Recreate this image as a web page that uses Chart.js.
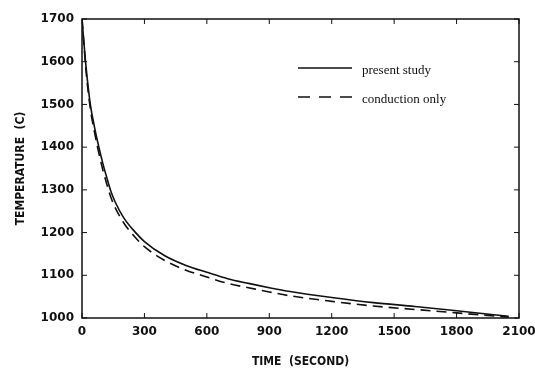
<!DOCTYPE html>
<html>
<head>
<meta charset="utf-8">
<script src="https://cdn.jsdelivr.net/npm/chart.js@4.4.0/dist/chart.umd.min.js"></script>
<style>
  html, body { margin: 0; padding: 0; background: #fff; }
  #wrap { width: 535px; height: 373px; }
</style>
</head>
<body>
<div id="wrap"><canvas id="tempChart" width="535" height="373"></canvas></div>
<script>
// time in seconds, temperature in C
const times = [0, 10, 20, 40, 60, 80, 100, 120, 140, 160, 200, 250, 300, 400, 500, 600, 700, 800, 900, 1000, 1200, 1400, 1600, 1800, 2050];
const presentStudy = [1700, 1640, 1585, 1500, 1447, 1402, 1362, 1327, 1295, 1271, 1235, 1204, 1179, 1145, 1123, 1107, 1092, 1081, 1071, 1062, 1048, 1036, 1027, 1017, 1004];
const conductionOnly = [1700, 1636, 1575, 1490, 1435, 1388, 1347, 1312, 1281, 1258, 1223, 1192, 1167, 1134, 1112, 1096, 1081, 1071, 1061, 1052, 1039, 1028, 1020, 1012, 1002];
const xTicks = [0, 300, 600, 900, 1200, 1500, 1800, 2100];
const yTicks = [1000, 1100, 1200, 1300, 1400, 1500, 1600, 1700];

const tickFont = { family: "'DejaVu Sans', sans-serif", size: 12, weight: "bold" };
const titleFont = { family: "'DejaVu Sans Condensed', 'DejaVu Sans', sans-serif", size: 12, weight: "bold" };

function toPoints(xs, ys) {
  return xs.map((x, i) => ({ x, y: ys[i] }));
}

// box around the plot with short inward tick marks on all four sides
const frameTicks = {
  id: "frameTicks",
  afterDraw(chart) {
    const { ctx, chartArea: a, scales } = chart;
    ctx.save();
    ctx.strokeStyle = "#111";
    ctx.lineWidth = 1.5;
    ctx.strokeRect(a.left, a.top, a.right - a.left, a.bottom - a.top);
    ctx.lineWidth = 1;
    ctx.beginPath();
    xTicks.forEach(v => {
      const px = scales.x.getPixelForValue(v);
      ctx.moveTo(px, a.bottom); ctx.lineTo(px, a.bottom - 5);
      ctx.moveTo(px, a.top); ctx.lineTo(px, a.top + 5);
    });
    yTicks.forEach(v => {
      const py = scales.y.getPixelForValue(v);
      ctx.moveTo(a.left, py); ctx.lineTo(a.left + 5, py);
      ctx.moveTo(a.right, py); ctx.lineTo(a.right - 5, py);
    });
    ctx.stroke();
    ctx.restore();
  }
};

// legend drawn inside the plot, upper right
const innerLegend = {
  id: "innerLegend",
  afterDraw(chart) {
    const ctx = chart.ctx;
    const rows = [
      { ds: chart.data.datasets[0], y: 68 },
      { ds: chart.data.datasets[1], y: 97 }
    ];
    ctx.save();
    ctx.font = "13px 'Liberation Serif', serif";
    ctx.fillStyle = "#111";
    ctx.textBaseline = "middle";
    rows.forEach(r => {
      ctx.strokeStyle = "#111";
      ctx.lineWidth = 1.5;
      ctx.setLineDash(r.ds.borderDash ? [12, 9] : []);
      ctx.beginPath();
      ctx.moveTo(298, r.y);
      ctx.lineTo(352, r.y);
      ctx.stroke();
      ctx.setLineDash([]);
      ctx.fillText(r.ds.label, 362, r.y + 3);
    });
    ctx.restore();
  }
};

new Chart(document.getElementById("tempChart"), {
  type: "line",
  data: {
    datasets: [{
      label: "present study",
      data: toPoints(times, presentStudy),
      borderColor: "#111",
      borderWidth: 1.6,
      pointRadius: 0,
      cubicInterpolationMode: "monotone"
    }, {
      label: "conduction only",
      data: toPoints(times, conductionOnly),
      borderColor: "#111",
      borderWidth: 1.6,
      borderDash: [10, 6],
      pointRadius: 0,
      cubicInterpolationMode: "monotone"
    }]
  },
  options: {
    responsive: false,
    animation: false,
    layout: { padding: { top: 19, right: 0, left: 0, bottom: 0 } },
    plugins: {
      legend: { display: false },
      tooltip: { enabled: false }
    },
    scales: {
      x: {
        type: "linear",
        min: 0,
        max: 2100,
        afterBuildTicks: s => { s.ticks = xTicks.map(v => ({ value: v })); },
        afterFit: s => { s.height = 55; s.paddingRight = 16; },
        grid: { display: false, drawTicks: false },
        border: { display: false },
        ticks: { color: "#111", font: tickFont, padding: 7, maxRotation: 0, callback: v => String(v) },
        title: { display: true, text: "TIME  (SECOND)", color: "#111", font: titleFont, padding: { top: 0, bottom: 4 } }
      },
      y: {
        min: 1000,
        max: 1700,
        afterBuildTicks: s => { s.ticks = yTicks.map(v => ({ value: v })); },
        afterFit: s => { s.width = 82; },
        grid: { display: false, drawTicks: false },
        border: { display: false },
        ticks: { color: "#111", font: tickFont, padding: 8, callback: v => String(v) },
        title: { display: true, text: "TEMPERATURE  (C)", color: "#111", font: titleFont, padding: { top: 14, bottom: 0 } }
      }
    }
  },
  plugins: [frameTicks, innerLegend]
});
</script>
</body>
</html>
